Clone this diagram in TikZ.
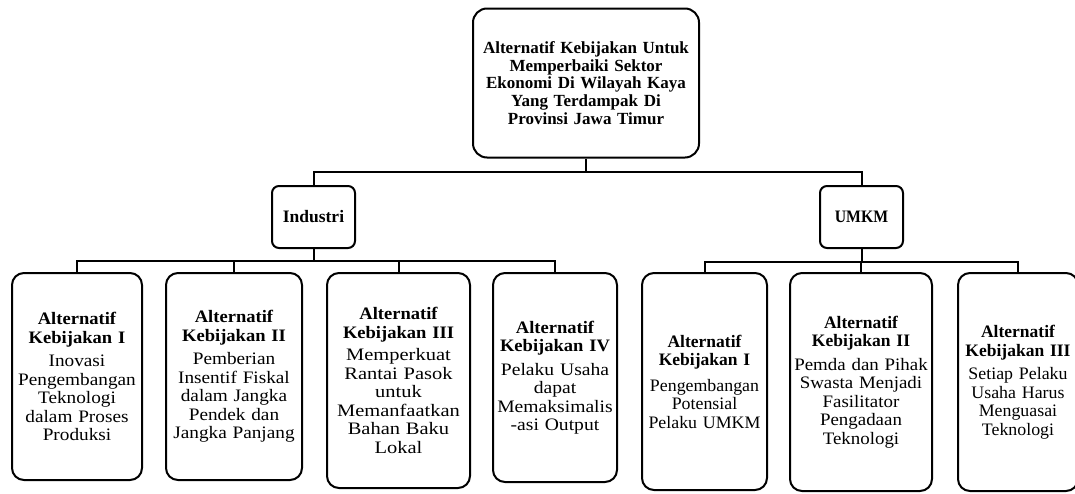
\documentclass[tikz,border=0pt]{standalone}
\usepackage{fontspec}
\setmainfont{Liberation Serif}
\newfontfamily\fbA[FakeStretch=1.10]{Liberation Serif}
\newfontfamily\fbB[FakeStretch=1.10]{Liberation Serif}
\newfontfamily\fbC[FakeStretch=1.17]{Liberation Serif}
\newfontfamily\fbD[FakeStretch=1.12]{Liberation Serif}
\newfontfamily\fbE[FakeStretch=1.02]{Liberation Serif}
\newfontfamily\fbF[FakeStretch=1.08]{Liberation Serif}
\newfontfamily\fbG[FakeStretch=1.02]{Liberation Serif}
\newfontfamily\fttW[FakeStretch=1.06]{Liberation Serif}
\newfontfamily\fttN[FakeStretch=1.0]{Liberation Serif}
\newfontfamily\fumkm[FakeStretch=0.9]{Liberation Serif}
\newcommand\ttlW[1]{{\fttW\bfseries #1}}
\newcommand\ttlN[1]{{\fttN\bfseries #1}}
\begin{document}
\begin{tikzpicture}[x=1pt,y=-1pt,
  box/.style={draw, line width=2pt, rounded corners=12pt, inner sep=0pt, align=center},
  bsize/.style={font=#1\fontsize{17.5}{18.5}\selectfont},
  smallbox/.style={draw, line width=2pt, rounded corners=7pt, inner sep=0pt, align=center,
    minimum width=83pt, minimum height=62pt},
  conn/.style={line width=2pt},
]
\useasboundingbox (0,0) rectangle (1075,493);

% top
\node[box, rounded corners=14pt, minimum width=226pt, minimum height=149pt, text width=222pt,
  font=\bfseries\fontsize{17}{17.7}\selectfont] (top) at (586,83)
  {Alternatif Kebijakan Untuk\\Memperbaiki Sektor\\Ekonomi Di Wilayah Kaya\\Yang Terdampak Di\\Provinsi Jawa Timur};

% level 2
\node[smallbox, font=\bfseries\fontsize{17.5}{18}\selectfont] (ind) at (313.5,217) {Industri};
\node[smallbox, font=\fumkm\bfseries\fontsize{17.5}{18}\selectfont] (umkm) at (861.5,217) {UMKM};

% level 3 - Industri
\node[box, bsize=\fbA, minimum width=130pt, minimum height=207pt, text width=128pt] (b1) at (77,376.5)
  {\ttlW{Alternatif}\\\ttlW{Kebijakan I}\\[5pt]Inovasi\\Pengembangan\\Teknologi\\dalam Proses\\Produksi};
\node[box, bsize=\fbB, minimum width=136pt, minimum height=207pt, text width=134pt] (b2) at (234,376.5)
  {\ttlW{Alternatif}\\\ttlW{Kebijakan II}\\[5pt]Pemberian\\Insentif Fiskal\\dalam Jangka\\Pendek dan\\Jangka Panjang};
\node[box, bsize=\fbC, minimum width=143pt, minimum height=215pt, text width=141pt] (b3) at (398.5,380.5)
  {\ttlW{Alternatif}\\\ttlW{Kebijakan III}\\[4pt]Memperkuat\\Rantai Pasok\\untuk\\Memanfaatkan\\Bahan Baku\\Lokal};
\node[box, bsize=\fbD, minimum width=124pt, minimum height=209pt, text width=122pt] (b4) at (555,377.5)
  {\ttlW{Alternatif}\\\ttlW{Kebijakan IV}\\[5pt]Pelaku Usaha\\dapat\\Memaksimalis\\-asi Output};

% level 3 - UMKM
\node[box, bsize=\fbE, minimum width=125pt, minimum height=217pt, text width=123pt] (b5) at (704.5,381.5)
  {\ttlN{Alternatif}\\\ttlN{Kebijakan I}\\[7pt]Pengembangan\\Potensial\\Pelaku UMKM};
\node[box, bsize=\fbF, minimum width=142pt, minimum height=218pt, text width=140pt] (b6) at (861,382)
  {\ttlN{Alternatif}\\\ttlN{Kebijakan II}\\[5pt]Pemda dan Pihak\\Swasta Menjadi\\Fasilitator\\Pengadaan\\Teknologi};
\node[box, bsize=\fbG, minimum width=120pt, minimum height=218pt, text width=118pt] (b7) at (1018,382)
  {\ttlN{Alternatif}\\\ttlN{Kebijakan III}\\[5pt]Setiap Pelaku\\Usaha Harus\\Menguasai\\Teknologi};

% connectors
\coordinate (jT) at (top.south |- 0,172);
\draw[conn] (top.south) -- (jT) -| (ind.north);
\draw[conn] (jT) -| (umkm.north);

\coordinate (jI) at (ind.south |- 0,261);
\draw[conn] (ind.south) -- (jI) -| (b1.north);
\draw[conn] (jI) -| (b2.north);
\draw[conn] (jI) -| (b3.north);
\draw[conn] (jI) -| (b4.north);

\coordinate (jU) at (umkm.south |- 0,262);
\draw[conn] (umkm.south) -- (jU) -| (b5.north);
\draw[conn] (jU) -| (b6.north);
\draw[conn] (jU) -| (b7.north);
\end{tikzpicture}
\end{document}
